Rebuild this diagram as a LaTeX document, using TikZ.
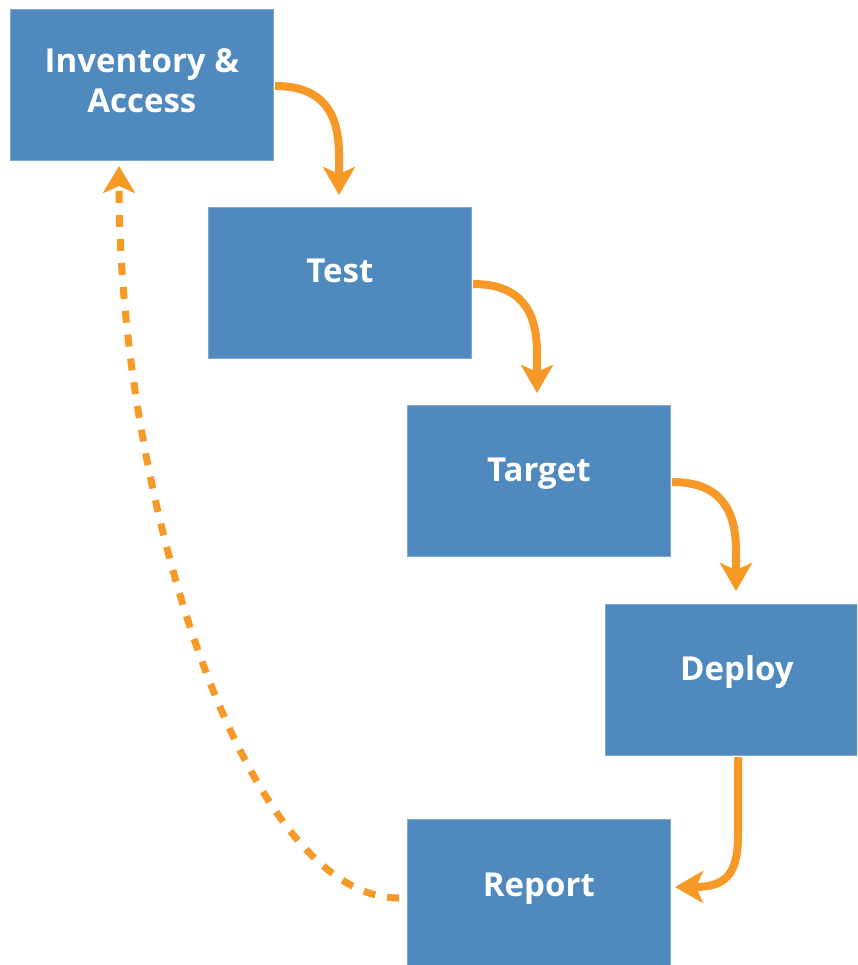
\documentclass[tikz,border=0pt]{standalone}
\usepackage{fontspec}
\setmainfont{Open Sans}
\usetikzlibrary{arrows.meta}
\definecolor{boxblue}{RGB}{79,137,189}
\definecolor{boxedge}{RGB}{125,168,208}
\definecolor{arrorange}{RGB}{247,153,38}
\tikzset{
  stepbox/.style={rectangle, fill=boxblue, draw=boxedge, line width=0.8pt,
    minimum width=263pt, minimum height=151pt, inner sep=0pt, anchor=north west},
  lbl/.style={text=white, font=\fontsize{33}{40}\selectfont\bfseries, inner sep=0pt, align=center},
  flow/.style={draw=arrorange, line width=8pt,
    -{Stealth[length=28pt,width=32pt,inset=7pt]}},
  back/.style={draw=arrorange, line width=7pt, dash pattern=on 12pt off 12pt,
    -{Stealth[length=27pt,width=32pt,inset=7pt]}}
}
\begin{document}
\begin{tikzpicture}[x=1pt,y=-1pt]
\clip (0,0) rectangle (857,965);
\fill[white] (0,0) rectangle (857,965);
% boxes
\node[stepbox] (inv) at (10,9) {};
\node[stepbox] (test) at (208,207) {};
\node[stepbox] (target) at (407,405) {};
\node[stepbox] (deploy) at (605,604) {};
\node[stepbox] (report) at (407,819) {};
% labels
\node[lbl, anchor=base] (tinv) at ([yshift=-104pt]inv.north) {Inventory \&\\Access};
\node[lbl, anchor=base] (ttest) at ([yshift=-76pt]test.north) {Test};
\node[lbl, anchor=base] (ttarget) at ([yshift=-76pt]target.north) {Target};
\node[lbl, anchor=base] (tdeploy) at ([yshift=-76pt]deploy.north) {Deploy};
\node[lbl, anchor=base] (treport) at ([yshift=-77pt]report.north) {Report};
% connector end points
\coordinate (a1s) at (275,86);   \coordinate (a1e) at (339,195);
\coordinate (a2s) at (473,284);  \coordinate (a2e) at (537,393);
\coordinate (a3s) at (672,482);  \coordinate (a3e) at (736,591);
\coordinate (a4s) at (738,757);  \coordinate (a4e) at (675,887);
\coordinate (bs) at (399,898);   \coordinate (be) at (119,166);
% flow arrows
\draw[flow] (a1s) .. controls (322,86) and (339,112) .. (339,155) -- (a1e);
\draw[flow] (a2s) .. controls (520,284) and (537,310) .. (537,353) -- (a2e);
\draw[flow] (a3s) .. controls (719,482) and (736,508) .. (736,551) -- (a3e);
\draw[flow] (a4s) -- (738,835) .. controls (738,874) and (726,887) .. (a4e);
% return arrow
\draw[back] (bs) .. controls (243,898) and (119,494) .. (be);
\end{tikzpicture}
\end{document}
